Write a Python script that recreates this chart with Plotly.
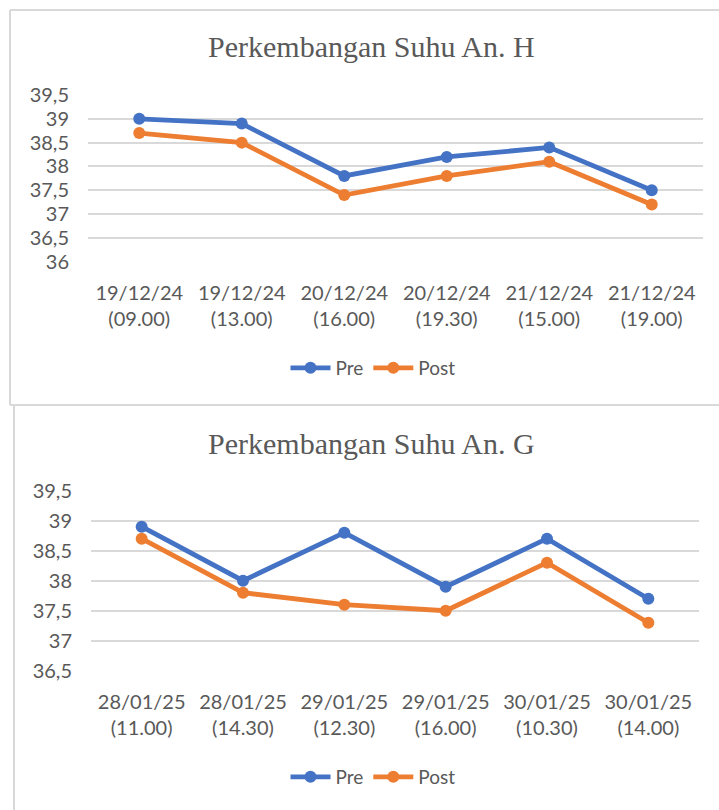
import plotly.graph_objects as go

# ---- data ----
cats_h = ["19/12/24<br>(09.00)", "19/12/24<br>(13.00)", "20/12/24<br>(16.00)",
          "20/12/24<br>(19.30)", "21/12/24<br>(15.00)", "21/12/24<br>(19.00)"]
pre_h = [39.0, 38.9, 37.8, 38.2, 38.4, 37.5]
post_h = [38.7, 38.5, 37.4, 37.8, 38.1, 37.2]

cats_g = ["28/01/25<br>(11.00)", "28/01/25<br>(14.30)", "29/01/25<br>(12.30)",
          "29/01/25<br>(16.00)", "30/01/25<br>(10.30)", "30/01/25<br>(14.00)"]
pre_g = [38.9, 38.0, 38.8, 37.9, 38.7, 37.7]
post_g = [38.7, 37.8, 37.6, 37.5, 38.3, 37.3]

ticks_h = [36, 36.5, 37, 37.5, 38, 38.5, 39, 39.5]
ticks_g = [36.5, 37, 37.5, 38, 38.5, 39, 39.5]

title_h = "Perkembangan Suhu An. H"
title_g = "Perkembangan Suhu An. G"

BLUE = "#4472C4"
ORANGE = "#ED7D31"
GREY = "#595959"
GRID = "#D9D9D9"
W, H = 719, 810

def px(x):
    return x / W

def py(y):
    return 1 - y / H

fig = go.Figure()

def add_series(x, y, name, color, xa, ya, legend):
    fig.add_trace(go.Scatter(
        x=x, y=y, name=name, mode="lines+markers",
        line=dict(color=color, width=4.8),
        marker=dict(color=color, size=12),
        xaxis=xa, yaxis=ya, legend=legend,
    ))

add_series(cats_h, pre_h, "Pre", BLUE, "x", "y", "legend")
add_series(cats_h, post_h, "Post", ORANGE, "x", "y", "legend")
add_series(cats_g, pre_g, "Pre", BLUE, "x2", "y2", "legend2")
add_series(cats_g, post_g, "Post", ORANGE, "x2", "y2", "legend2")

tickfont = dict(family="Lato, Noto Sans, sans-serif", size=20, color=GREY)

xcommon = dict(type="category", range=[-0.5, 5.5], showgrid=False, showline=False,
               zeroline=False, ticks="", tickfont=tickfont, ticklabelstandoff=17,
               fixedrange=True)
ycommon = dict(showgrid=True, gridcolor=GRID, gridwidth=2, showline=False,
               zeroline=False, ticks="", tickfont=tickfont, ticklabelstandoff=18,
               fixedrange=True)

legend_common = dict(orientation="h", xanchor="center", yanchor="middle",
                     font=dict(family="Lato, Noto Sans, sans-serif", size=19, color=GREY),
                     bgcolor="rgba(0,0,0,0)", itemwidth=40)

fig.update_layout(
    width=W, height=H,
    margin=dict(l=0, r=0, t=0, b=0, pad=0, autoexpand=False),
    paper_bgcolor="white", plot_bgcolor="white",
    separators=",.",
    xaxis=dict(domain=[px(88), px(703)], anchor="y", **xcommon),
    yaxis=dict(domain=[py(261.7), py(95)], anchor="x", range=[36, 39.5],
               tickvals=ticks_h, **ycommon),
    xaxis2=dict(domain=[px(91), px(699)], anchor="y2", **xcommon),
    yaxis2=dict(domain=[py(670.7), py(490.7)], anchor="x2", range=[36.5, 39.5],
                tickvals=ticks_g, **ycommon),
    legend=dict(x=px(373), y=py(368), **legend_common),
    legend2=dict(x=px(373), y=py(777), **legend_common),
    annotations=[
        dict(text=title_h, xref="paper", yref="paper", x=px(371), y=py(47),
             xanchor="center", yanchor="middle", showarrow=False,
             font=dict(family="Liberation Serif, Times New Roman, serif", size=30, color=GREY)),
        dict(text=title_g, xref="paper", yref="paper", x=px(371), y=py(443),
             xanchor="center", yanchor="middle", showarrow=False,
             font=dict(family="Liberation Serif, Times New Roman, serif", size=30, color=GREY)),
    ],
    shapes=[
        dict(type="line", xref="paper", yref="paper", x0=px(10), x1=1, y0=py(10), y1=py(10),
             line=dict(color=GRID, width=2)),
        dict(type="line", xref="paper", yref="paper", x0=px(10), x1=px(10), y0=py(10), y1=py(405),
             line=dict(color=GRID, width=2)),
        dict(type="line", xref="paper", yref="paper", x0=px(10), x1=1, y0=py(405), y1=py(405),
             line=dict(color=GRID, width=2)),
        dict(type="line", xref="paper", yref="paper", x0=px(14), x1=px(14), y0=py(405), y1=0,
             line=dict(color=GRID, width=2)),
    ],
)

fig.write_html(
    "out.html",
    config={"displayModeBar": False},
    post_script=(
        "document.documentElement.style.margin='0';"
        "document.body.style.margin='0';"
        "document.documentElement.style.overflow='hidden';"
        "document.body.style.overflow='hidden';"
        "var d=document.getElementById('{plot_id}');"
        "d.style.position='fixed';d.style.top='0';d.style.left='0';"
    ),
)
